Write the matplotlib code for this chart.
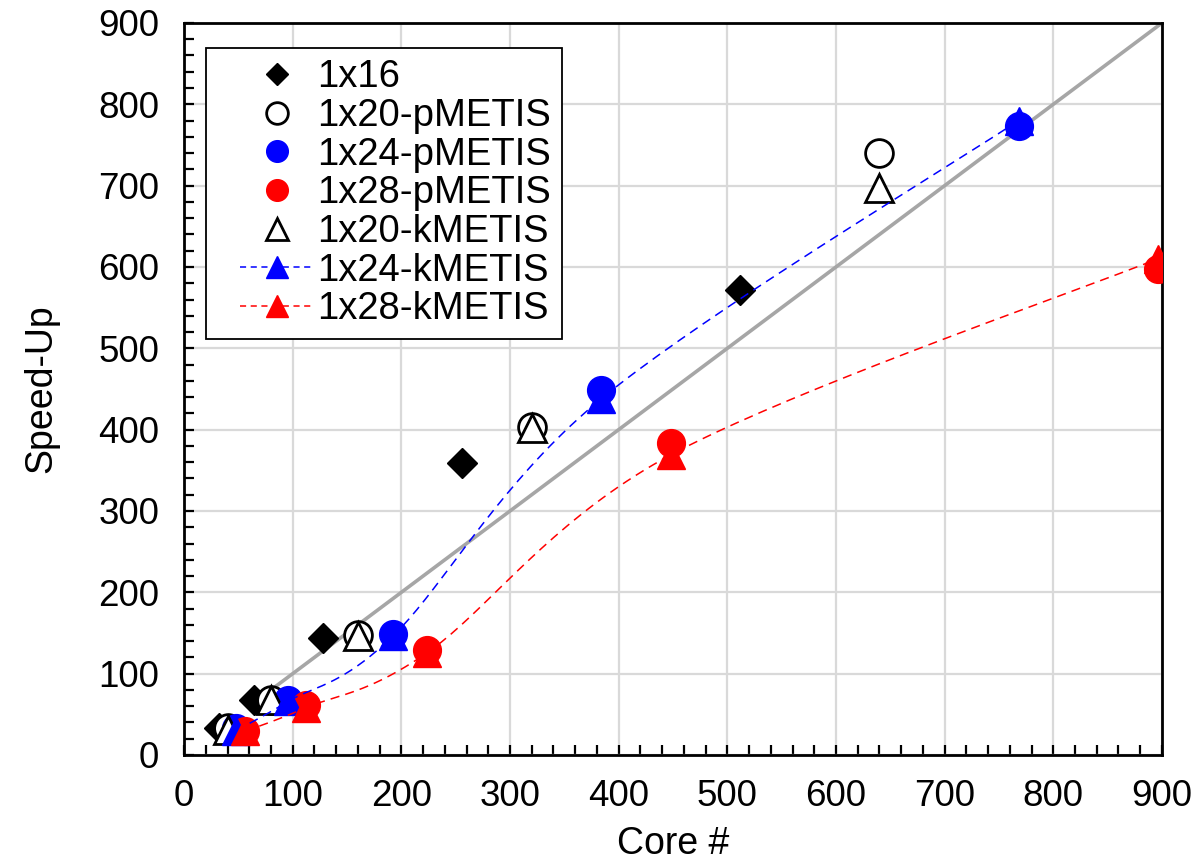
import numpy as np
import matplotlib
matplotlib.use("Agg")
import matplotlib.pyplot as plt
from matplotlib.legend_handler import HandlerLine2D

plt.rcParams['font.family'] = ['Liberation Sans', 'DejaVu Sans']

# ---- data ----
cores_16 = [32, 64, 128, 256, 512]
speed_16 = [33, 68, 144, 359, 572]

cores_20 = [40, 80, 160, 320, 640]
speed_20_p = [33, 68, 148, 403, 740]
speed_20_k = [31, 67, 146, 402, 697]

cores_24 = [48, 96, 192, 384, 768]
speed_24_p = [33, 68, 149, 449, 773]
speed_24_k = [30, 66, 146, 438, 780]

cores_28 = [56, 112, 224, 448, 896]
speed_28_p = [30, 61, 129, 384, 597]
speed_28_k = [29, 58, 126, 369, 610]

ideal_x = [64, 900]
ideal_y = [64, 900]

x_ticks = list(range(0, 901, 100))
y_ticks = list(range(0, 901, 100))


def smooth(xs, ys, n=40):
    """Excel-style smoothed line (Catmull-Rom / cubic Bezier) through points."""
    P = np.column_stack([xs, ys]).astype(float)
    out = []
    for i in range(len(P) - 1):
        p0 = P[i - 1] if i > 0 else P[i]
        p1 = P[i]
        p2 = P[i + 1]
        p3 = P[i + 2] if i + 2 < len(P) else P[i + 1]
        c1 = p1 + (p2 - p0) / 6.0
        c2 = p2 - (p3 - p1) / 6.0
        t = np.linspace(0, 1, n)[:, None]
        seg = ((1 - t) ** 3) * p1 + 3 * ((1 - t) ** 2) * t * c1 + 3 * (1 - t) * t ** 2 * c2 + t ** 3 * p2
        out.append(seg if i == 0 else seg[1:])
    s = np.vstack(out)
    return s[:, 0], s[:, 1]


fig = plt.figure(figsize=(11.92, 8.60), dpi=100)
ax = fig.add_axes([0.1544, 0.1221, 0.8204, 0.8512])

ax.set_xlim(0, 900)
ax.set_ylim(0, 900)
ax.set_xticks(x_ticks)
ax.set_yticks(y_ticks)
ax.set_xticks(range(0, 901, 20), minor=True)
ax.set_yticks(range(0, 901, 20), minor=True)
ax.grid(True, which='major', color='#d9d9d9', linewidth=1.6, zorder=0)
ax.set_axisbelow(True)
ax.tick_params(which='both', direction='in', width=1.6, color='black',
               labelsize=26.5)
ax.tick_params(axis='y', which='major', pad=18)
ax.tick_params(axis='x', which='major', pad=17)
ax.tick_params(which='major', length=7)
ax.tick_params(which='minor', length=7)
for sp in ax.spines.values():
    sp.set_linewidth(2.0)
    sp.set_color('black')

ax.plot(ideal_x, ideal_y, color='#a6a6a6', linewidth=2.6, zorder=2)

ax.plot(cores_16, speed_16, linestyle='none', marker='D', markersize=15,
        color='black', label='1x16', zorder=3)
ax.plot(cores_20, speed_20_p, linestyle='none', marker='o', markersize=20,
        markerfacecolor='white', markeredgecolor='black', markeredgewidth=2.0,
        label='1x20-pMETIS', zorder=4)
ax.plot(cores_24, speed_24_p, linestyle='none', marker='o', markersize=20,
        color='#0000ff', label='1x24-pMETIS', zorder=5)
ax.plot(cores_28, speed_28_p, linestyle='none', marker='o', markersize=20,
        color='#ff0000', label='1x28-pMETIS', zorder=6)
ax.plot(cores_20, speed_20_k, linestyle='none', marker='^', markersize=20,
        markerfacecolor='white', markeredgecolor='black', markeredgewidth=2.0,
        label='1x20-kMETIS', zorder=7)

bx, by = smooth(cores_24, speed_24_k)
ax.plot(bx, by, color='#0000ff', linewidth=1.1, dashes=(6, 4), zorder=8)
ax.plot(cores_24, speed_24_k, linestyle='none', marker='^', markersize=20,
        color='#0000ff', zorder=8)
rx, ry = smooth(cores_28, speed_28_k)
ax.plot(rx, ry, color='#ff0000', linewidth=1.1, dashes=(6, 4), zorder=9)
ax.plot(cores_28, speed_28_k, linestyle='none', marker='^', markersize=20,
        color='#ff0000', zorder=9)

# legend proxies for dashed-line series
ax.plot([], [], color='#0000ff', linewidth=1.1, dashes=(4, 3), marker='^',
        markersize=20, label='1x24-kMETIS')
ax.plot([], [], color='#ff0000', linewidth=1.1, dashes=(4, 3), marker='^',
        markersize=20, label='1x28-kMETIS')

handles, labels = ax.get_legend_handles_labels()
leg = ax.legend(handles, labels, loc='upper left', bbox_to_anchor=(0.0225, 0.966),
                fontsize=27.5, markerscale=0.78, frameon=True, fancybox=False,
                edgecolor='black', framealpha=1, borderpad=0.3, labelspacing=0.07,
                handlelength=2.5, handletextpad=0.1, borderaxespad=0,
                handler_map={h: HandlerLine2D(xpad=0.6) for h in handles})
leg.get_frame().set_linewidth(1.3)
leg.set_zorder(20)

ax.set_xlabel('Core #', fontsize=27)
ax.set_ylabel('Speed-Up', fontsize=27)
ax.xaxis.set_label_coords(0.5, -0.097)
ax.yaxis.set_label_coords(-0.128, 0.5)

fig.savefig('out.png', dpi=100)
